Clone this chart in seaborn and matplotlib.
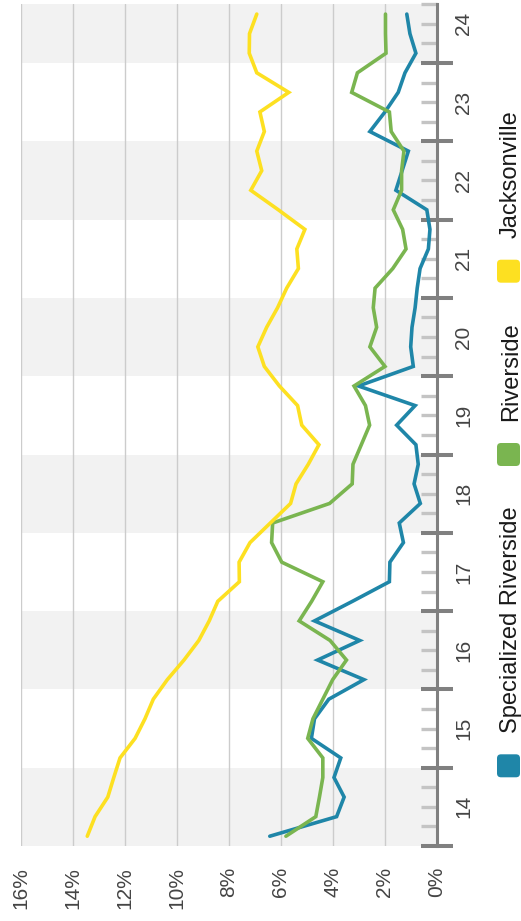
import numpy as np
import pandas as pd
import seaborn as sns
import matplotlib.pyplot as plt
from matplotlib.patches import FancyBboxPatch
from matplotlib.transforms import blended_transform_factory

# quarterly shares, 2014Q1 .. 2024Q3
quarters = pd.period_range('2014Q1', '2024Q3', freq='Q')
specialized = [6.42, 3.85, 3.56, 3.95, 3.69, 4.82, 4.7, 4.15, 2.8, 4.58,
               2.96, 4.7, 3.24, 1.82, 1.8, 1.28, 1.44, 0.63, 0.87, 0.71,
               0.8, 1.54, 0.83, 3.01, 0.9, 1.0, 0.95, 0.83, 0.75, 0.64,
               0.32, 0.26, 0.38, 1.57, 1.33, 1.09, 2.57, 1.99, 1.48, 1.22,
               0.8, 1.03, 1.15]
riverside = [5.8, 4.65, 4.51, 4.38, 4.38, 4.96, 4.76, 4.38, 4.0, 3.47,
             4.1, 5.29, 4.81, 4.38, 5.96, 6.35, 6.31, 4.12, 3.25, 3.22,
             2.9, 2.58, 2.74, 3.18, 1.99, 2.57, 2.31, 2.44, 2.37, 1.69,
             1.18, 1.31, 1.67, 1.35, 1.35, 1.26, 1.75, 1.82, 3.27, 3.05,
             1.95, 1.97, 1.97]
jacksonville = [13.44, 13.14, 12.65, 12.42, 12.18, 11.6, 11.22, 10.9, 10.36, 9.72,
                9.15, 8.75, 8.42, 7.59, 7.6, 7.18, 6.4, 5.62, 5.41, 4.94,
                4.53, 5.19, 5.35, 6.05, 6.63, 6.88, 6.54, 6.12, 5.77, 5.32,
                5.38, 5.07, 6.09, 7.15, 6.73, 6.92, 6.63, 6.8, 5.69, 6.92,
                7.21, 7.2, 6.92]
series_names = ['Specialized Riverside', 'Riverside', 'Jacksonville']
colors = ['#1f86a8', '#7ab550', '#fde021']
years = list(range(2014, 2025))
pct_ticks = [16, 14, 12, 10, 8, 6, 4, 2, 0]

# quarter midpoints on a decimal-year scale
t = np.array([q.year + (q.quarter - 1) / 4 + 0.125 for q in quarters])
df = pd.concat([
    pd.DataFrame({'t': t, 'pct': vals, 'series': name})
    for name, vals in zip(series_names, [specialized, riverside, jacksonville])
])

sns.set_style('white')
plt.rcParams['font.family'] = ['Liberation Sans', 'DejaVu Sans']

fig = plt.figure(figsize=(5.21, 9.21), dpi=100)
ax = fig.add_axes([20.7 / 521, 1 - 846 / 921, 416 / 521, (846 - 4.3) / 921])

# alternating year bands
for y in years[::2]:
    ax.axhspan(y, y + 1, color='#f2f2f2', lw=0, zorder=0.1)

sns.lineplot(data=df, x='pct', y='t', hue='series', hue_order=series_names,
             palette=colors, orient='y', estimator=None, legend=False,
             lw=2.6, ax=ax)
for ln in ax.lines:
    ln.set_solid_joinstyle('miter')

ax.set_xlim(16, 0)
ax.set_ylim(2014, 2024.75)
ax.set_xlabel('')
ax.set_ylabel('')

# percent axis (bottom, rotated labels)
ax.set_xticks(pct_ticks)
ax.set_xticklabels([f'{p}%' for p in pct_ticks])
ax.tick_params(axis='x', length=0, pad=15, labelsize=15, labelcolor='#444444')
for lab in ax.get_xticklabels():
    lab.set_rotation(90)
    lab.set_rotation_mode('anchor')
    lab.set_ha('right')
    lab.set_va('center')
ax.set_axisbelow(True)
ax.grid(axis='x', color='#cccccc', lw=1.0)
ax.grid(axis='y', visible=False)

# time axis (right side)
for s in ['top', 'left', 'bottom']:
    ax.spines[s].set_visible(False)
ax.spines['right'].set_color('#808080')
ax.spines['right'].set_linewidth(2.2)
ax.yaxis.tick_right()
ax.set_yticks(years)
ax.set_yticks([y + q / 4 for y in years for q in (1, 2, 3) if y + q / 4 <= 2024.75],
              minor=True)
ax.tick_params(axis='y', which='major', direction='inout', length=23, width=2.9,
               color='#808080', labelright=False, labelleft=False)
ax.tick_params(axis='y', which='minor', direction='in', length=11.5, width=2.4,
               color='#c4c4c4')

ytrans = blended_transform_factory(fig.dpi_scale_trans, ax.transData)
for y in years:
    ax.text(4.693, y + 0.5, str(y)[2:], transform=ytrans, rotation=90,
            rotation_mode='anchor', ha='center', va='baseline',
            fontsize=15, color='#444444', clip_on=False)

# legend drawn rotated along the right edge
legend_items = [('Specialized Riverside', 777.3), ('Riverside', 466.0), ('Jacksonville', 282.7)]
for (name, sq_bottom), col in zip(legend_items, colors):
    box = FancyBboxPatch((4.97, (921 - sq_bottom) / 100), 0.23, 0.23,
                         boxstyle='round,pad=0,rounding_size=0.04',
                         transform=fig.dpi_scale_trans, facecolor=col,
                         edgecolor='none')
    fig.patches.append(box)
    fig.text(5.167, (921 - sq_bottom + 22.6 + 22) / 100, name,
             transform=fig.dpi_scale_trans, rotation=90, rotation_mode='anchor',
             ha='left', va='baseline', fontsize=17, color='#1a1a1a')

fig.savefig('out.png', dpi=100)
